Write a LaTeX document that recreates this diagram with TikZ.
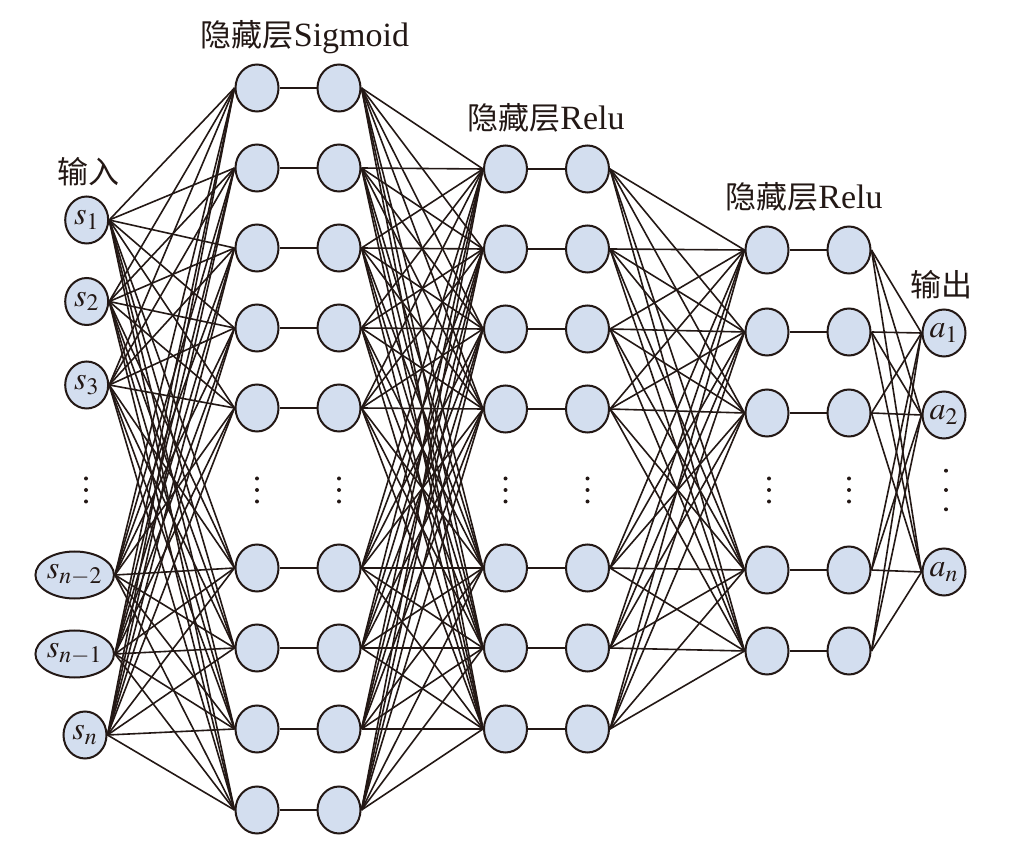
\documentclass[tikz,border=0pt]{standalone}
\usepackage{mathptmx}
\usepackage{fontspec}
\setmainfont{Liberation Serif}
\newfontfamily\cjk{Noto Sans CJK SC}
\usetikzlibrary{shapes.geometric}
\definecolor{nodeblue}{RGB}{211,222,239}
\definecolor{inkdark}{RGB}{35,24,21}
\newcommand{\layertitle}[1]{{\fontsize{15.5}{18}\cjk 隐藏层}{\fontsize{17}{20}\selectfont #1}}

\begin{document}
\begin{tikzpicture}[x=0.5pt, y=-0.5pt,
    every node/.style={font=\fontsize{16}{19}\selectfont, text=inkdark},
    neuron/.style={ellipse, draw=inkdark, line width=1pt, fill=nodeblue,
      minimum width=21.5pt, minimum height=23.5pt, inner sep=0pt},
    wideneuron/.style={neuron, minimum width=32pt},
    link/.style={line width=0.8pt, inkdark}]
\useasboundingbox (0,0) rectangle (1019,850);

% input
\node[neuron] (in1) at (86.7,220) {$s_1$};
\node[neuron] (in2) at (86.7,301.5) {$s_2$};
\node[neuron] (in3) at (86.7,385) {$s_3$};
\node[wideneuron] (in4) at (74.7,575) {$s_{n-2}$};
\node[wideneuron] (in5) at (74.7,654) {$s_{n-1}$};
\node[neuron] (in6) at (85,735) {$s_n$};

% hidden layers
\foreach \y [count=\i] in {88,168,248,328,408,568,648,729,810} {
  \node[neuron] (ha\i) at (257,\y) {};
  \node[neuron] (hb\i) at (339,\y) {};
  \draw[link] (ha\i) -- (hb\i);
}
\foreach \y [count=\i] in {169,249,329,409,568,648,729} {
  \node[neuron] (ra\i) at (505.5,\y) {};
  \node[neuron] (rb\i) at (587.5,\y) {};
  \draw[link] (ra\i) -- (rb\i);
}
\foreach \y [count=\i] in {250,332,413,570,651} {
  \node[neuron] (qa\i) at (767,\y) {};
  \node[neuron] (qb\i) at (849,\y) {};
  \draw[link] (qa\i) -- (qb\i);
}

% output
\node[neuron] (out1) at (944,333) {$a_1$};
\node[neuron] (out2) at (944,415) {$a_2$};
\node[neuron] (out3) at (944,572) {$a_n$};

% links
\foreach \i in {1,...,6} \foreach \j in {1,...,9}
  \draw[link] (in\i.east) -- (ha\j.west);
\foreach \i in {1,...,9} \foreach \j in {1,...,7}
  \draw[link] (hb\i.east) -- (ra\j.west);
\foreach \i in {1,...,7} \foreach \j in {1,...,5}
  \draw[link] (rb\i.east) -- (qa\j.west);
\foreach \i in {1,...,5} \foreach \j in {1,...,3}
  \draw[link] (qb\i.east) -- (out\j.west);

% dots
\foreach \x in {86,257,339,505.5,587.5,769,849} \foreach \d in {-11.5,0,11.5}
  \fill[inkdark] (\x,490+\d) circle (1pt);
\foreach \d in {-19.3,0,19.3}
  \fill[inkdark] (946,490+\d) circle (1pt);

% labels
\node (sig) at (305,37) {\layertitle{Sigmoid}};
\node (relua) at (546,118) {\layertitle{Relu}};
\node (relub) at (804,197) {\layertitle{Relu}};
\node (inlabel) at (88,172) {\fontsize{15.5}{18}\cjk 输入};
\node (outlabel) at (941,285) {\fontsize{15.5}{18}\cjk 输出};
\end{tikzpicture}
\end{document}
